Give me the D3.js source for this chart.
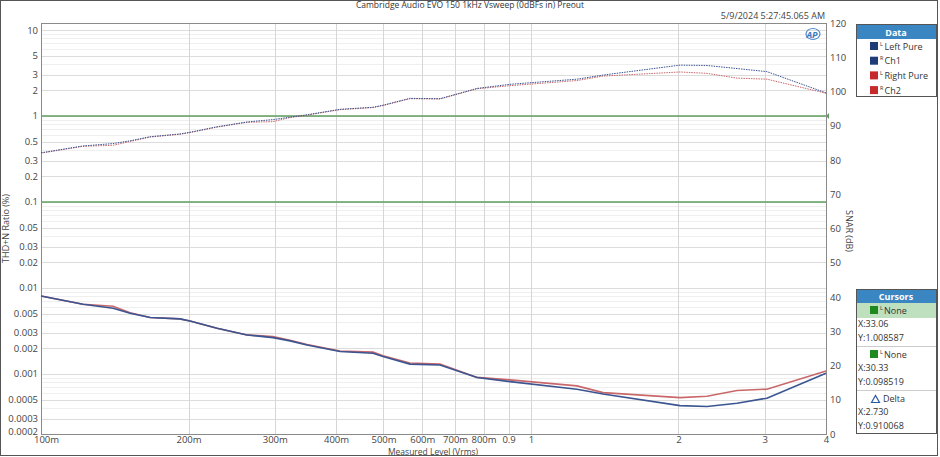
<!DOCTYPE html>
<html lang="en">
<head>
<meta charset="utf-8">
<title>EVO 150 Vsweep</title>
<script src="https://d3js.org/d3.v7.min.js"></script>
<style>
  body { margin: 0; background: #fff; }
  svg text { font-family: "Open Sans", "DejaVu Sans", sans-serif; }
  .axis text { font-size: 9.5px; fill: #444; }
  .axis path, .axis line { display: none; }
</style>
</head>
<body>
<script>
// measured level (Vrms)
var levels = [0.1, 0.1218, 0.1403, 0.152, 0.167, 0.192, 0.2014, 0.2287, 0.2633, 0.2975, 0.3223, 0.349, 0.4076,
              0.476, 0.4989, 0.566, 0.652, 0.776, 0.906, 1.241, 1.403, 2.014, 2.287, 2.633, 3.03, 4.0]
// THD+N ratio (%)
var thdLeft = [0.00807, 0.00646, 0.00581, 0.00508, 0.00452, 0.00436, 0.00413, 0.0034, 0.00284, 0.00264, 0.00242,
               0.00217, 0.00182, 0.00174, 0.00159, 0.0013, 0.00127, 0.000906, 0.000814, 0.000664, 0.000585,
               0.000428, 0.000417, 0.000456, 0.000522, 0.00102]
var thdRight = [0.00807, 0.00646, 0.00612, 0.00515, 0.00452, 0.00436, 0.00413, 0.0034, 0.00284, 0.00272, 0.00246,
                0.0022, 0.00185, 0.00179, 0.00163, 0.00134, 0.0013, 0.00091, 0.000852, 0.000725, 0.000606,
                0.00053, 0.00055, 0.00064, 0.000664, 0.00108]
// SNR (dB)
var snrCh1 = [82.1, 84.1, 84.8, 85.6, 86.8, 87.6, 88.1, 89.7, 91.1, 91.8, 92.5, 93.2, 94.8, 95.4, 96.0, 98.0, 97.9,
              100.9, 102.1, 103.6, 104.8, 107.7, 107.6, 106.7, 105.8, 99.6]
var snrCh2 = [82.0, 84.0, 84.3, 85.4, 86.7, 87.5, 88.0, 89.6, 91.0, 91.2, 92.4, 93.1, 94.7, 95.3, 95.9, 97.9, 97.8,
              100.8, 101.7, 103.2, 104.5, 105.7, 105.3, 103.9, 103.6, 99.5]

var xTicks = [0.1, 0.2, 0.3, 0.4, 0.5, 0.6, 0.7, 0.8, 0.9, 1, 2, 3, 4]
var xTickLabels = ["100m", "200m", "300m", "400m", "500m", "600m", "700m", "800m", "0.9", "1", "2", "3", "4"]
var yTicks = [10, 5, 3, 2, 1, 0.5, 0.3, 0.2, 0.1, 0.05, 0.03, 0.02, 0.01, 0.005, 0.003, 0.002, 0.001, 0.0005, 0.0003, 0.0002]
var dbTicks = [0, 10, 20, 30, 40, 50, 60, 70, 80, 90, 100, 110, 120]
var cursorLines = [1, 0.1]

var legendNames = [["L", "Left Pure"], ["R", "Ch1"], ["L", "Right Pure"], ["R", "Ch2"]]
var cursorRows = ["X:33.06", "Y:1.008587", "X:30.33", "Y:0.098519", "X:2.730", "Y:0.910068"]

var w = 940, h = 457
var plotL = 41, plotR = 826, plotT = 23, plotB = 434
var blue = "#3a5591", red = "#c9686b", green = "#5f9e5f"

var svg = d3.select("body").append("svg").attr("width", w).attr("height", h)

var xScale = d3.scaleLog().domain([0.1, 4]).range([plotL, plotR])
var yScale = d3.scaleLog().domain([0.0002, 12.05]).range([plotB, plotT])
var yDb = d3.scaleLinear().domain([0, 120]).range([plotB, plotT])

// outer frame
svg.append("rect").attr("x", 0.5).attr("y", 0.5).attr("width", 937).attr("height", 455)
    .attr("fill", "none").attr("stroke", "#555")

// minor horizontal grid
var minor = []
for (var e = -4; e <= 1; e++) {
    for (var m = 1; m <= 9; m++) {
        var v = m * Math.pow(10, e)
        if (v > 0.0002 && v < 12 && yTicks.indexOf(+v.toPrecision(3)) < 0) minor.push(v)
    }
}
svg.append("g").selectAll("line").data(minor).join("line")
    .attr("x1", plotL).attr("x2", plotR)
    .attr("y1", function (d) { return Math.round(yScale(d)) + 0.5 })
    .attr("y2", function (d) { return Math.round(yScale(d)) + 0.5 })
    .attr("stroke", "#efefef")

svg.append("g").selectAll("line").data(yTicks).join("line")
    .attr("x1", plotL).attr("x2", plotR)
    .attr("y1", function (d) { return Math.round(yScale(d)) + 0.5 })
    .attr("y2", function (d) { return Math.round(yScale(d)) + 0.5 })
    .attr("stroke", "#dcdcdc")

svg.append("g").selectAll("line").data(xTicks).join("line")
    .attr("y1", plotT).attr("y2", plotB)
    .attr("x1", function (d) { return Math.round(xScale(d)) + 0.5 })
    .attr("x2", function (d) { return Math.round(xScale(d)) + 0.5 })
    .attr("stroke", "#d6d6d6")

// cursor lines
svg.append("g").selectAll("line").data(cursorLines).join("line")
    .attr("x1", plotL).attr("x2", plotR)
    .attr("y1", function (d) { return yScale(d) }).attr("y2", function (d) { return yScale(d) })
    .attr("stroke", green).attr("stroke-width", 1.6)
svg.append("path")
    .attr("d", "M" + plotR + "," + yScale(1) + "l3,-3v6z").attr("fill", green)

// plot frame
svg.append("rect").attr("x", plotL + 0.5).attr("y", plotT + 0.5)
    .attr("width", plotR - plotL).attr("height", plotB - plotT)
    .attr("fill", "none").attr("stroke", "#8a8a8a")

// axes
var xAxis = d3.axisBottom(xScale).tickValues(xTicks).tickSize(0).tickPadding(2)
    .tickFormat(function (d, i) { return xTickLabels[i] })
var gx = svg.append("g").attr("class", "axis").attr("transform", "translate(0," + plotB + ")").call(xAxis)
gx.selectAll("text").attr("font-size", 9)
gx.selectAll("text").filter(function (d) { return d === 0.1 }).attr("dx", 5)

var yAxis = d3.axisLeft(yScale).tickValues(yTicks).tickSize(0).tickPadding(3)
    .tickFormat(function (d) { return String(d) })
var gy = svg.append("g").attr("class", "axis").attr("transform", "translate(" + plotL + ",0)").call(yAxis)
gy.selectAll("text").filter(function (d) { return d === 0.0002 }).attr("dy", "0.05em")

var rAxis = d3.axisRight(yDb).tickValues(dbTicks).tickSize(0).tickPadding(4)
svg.append("g").attr("class", "axis").attr("transform", "translate(" + plotR + ",0)").call(rAxis)

// axis titles
svg.append("text").attr("transform", "translate(9," + ((plotT + plotB) / 2) + ") rotate(-90)")
    .attr("text-anchor", "middle").attr("font-size", 9).attr("fill", "#444").text("THD+N Ratio (%)")
svg.append("text").attr("transform", "translate(846,231) rotate(90)")
    .attr("text-anchor", "middle").attr("font-size", 9).attr("fill", "#444").text("SNAR (dB)")
svg.append("text").attr("x", 433).attr("y", 454.5).attr("text-anchor", "middle")
    .attr("font-size", 8.5).attr("fill", "#444").text("Measured Level (Vrms)")

// title, date, logo
svg.append("text").attr("x", 470).attr("y", 8).attr("text-anchor", "middle")
    .attr("font-size", 8.5).attr("fill", "#333").text("Cambridge Audio EVO 150 1kHz Vsweep (0dBFs in) Preout")
svg.append("text").attr("x", 825).attr("y", 19).attr("text-anchor", "end")
    .attr("font-size", 9).attr("fill", "#444").text("5/9/2024 5:27:45.065 AM")
svg.append("ellipse").attr("cx", 813).attr("cy", 34).attr("rx", 7).attr("ry", 5.5)
    .attr("fill", "none").attr("stroke", "#4a8ad0").attr("stroke-width", 1.2)
svg.append("text").attr("x", 812).attr("y", 37.5).attr("text-anchor", "middle")
    .attr("font-size", 9).attr("font-style", "italic").attr("font-weight", "bold").attr("fill", "#3a78c0").text("AP")

// curves
function series(vals, yS) {
    return d3.line().x(function (d, i) { return xScale(levels[i]) }).y(function (d) { return yS(d) })(vals)
}
svg.append("path").attr("d", series(snrCh2, yDb)).attr("fill", "none").attr("stroke", red)
    .attr("stroke-width", 1).attr("stroke-dasharray", "1.5,1")
svg.append("path").attr("d", series(snrCh1, yDb)).attr("fill", "none").attr("stroke", blue)
    .attr("stroke-width", 1).attr("stroke-dasharray", "1.5,1")
svg.append("path").attr("d", series(thdRight, yScale)).attr("fill", "none").attr("stroke", red).attr("stroke-width", 1.6)
svg.append("path").attr("d", series(thdLeft, yScale)).attr("fill", "none").attr("stroke", blue).attr("stroke-width", 1.6)

// data legend
var lg = svg.append("g")
lg.append("rect").attr("x", 856.5).attr("y", 24.5).attr("width", 80).attr("height", 72)
    .attr("fill", "#fff").attr("stroke", "#555")
lg.append("rect").attr("x", 857).attr("y", 25).attr("width", 79).attr("height", 14).attr("fill", "#3a86c2")
lg.append("text").attr("x", 896).attr("y", 35.5).attr("text-anchor", "middle").attr("font-size", 9)
    .attr("font-weight", "bold").attr("fill", "#fff").text("Data")
var legendColors = ["#1f3c78", "#1f3c78", "#c62a2a", "#c62a2a"]
legendNames.forEach(function (d, i) {
    var yy = 46 + i * 14.7
    lg.append("rect").attr("x", 870).attr("y", yy - 4).attr("width", 8).attr("height", 8).attr("fill", legendColors[i])
    lg.append("text").attr("x", 880).attr("y", yy - 0.5).attr("font-size", 5.5).attr("fill", "#333").text(d[0])
    lg.append("text").attr("x", 884.5).attr("y", yy + 3.5).attr("font-size", 9).attr("fill", "#333").text(d[1])
})

// cursors panel
var cg = svg.append("g")
cg.append("rect").attr("x", 856.5).attr("y", 289.5).attr("width", 80).attr("height", 144)
    .attr("fill", "#fff").attr("stroke", "#555")
cg.append("rect").attr("x", 857).attr("y", 290).attr("width", 79).attr("height", 13).attr("fill", "#3a86c2")
cg.append("text").attr("x", 896).attr("y", 299.5).attr("text-anchor", "middle").attr("font-size", 9)
    .attr("font-weight", "bold").attr("fill", "#fff").text("Cursors")
cg.append("rect").attr("x", 857).attr("y", 303).attr("width", 79).attr("height", 15).attr("fill", "#bfe0bf")
;[310, 354].forEach(function (yy) {
    cg.append("rect").attr("x", 870).attr("y", yy - 4).attr("width", 8).attr("height", 8).attr("fill", "#1e8a1e")
    cg.append("text").attr("x", 880).attr("y", yy - 0.5).attr("font-size", 5.5).attr("fill", "#333").text("L")
    cg.append("text").attr("x", 884).attr("y", yy + 3.5).attr("font-size", 9).attr("fill", "#333").text("None")
})
;[346.5, 390.5].forEach(function (yy) {
    cg.append("line").attr("x1", 857).attr("x2", 936).attr("y1", yy).attr("y2", yy).attr("stroke", "#ccc")
})
cg.append("path").attr("d", "M871.5,402.5l4,-7l4,7z").attr("fill", "none").attr("stroke", "#2a5aa0").attr("stroke-width", 1.2)
cg.append("text").attr("x", 883).attr("y", 401.5).attr("font-size", 9).attr("fill", "#333").text("Delta")
var rowY = [326.5, 341, 370.5, 385, 415, 429]
cursorRows.forEach(function (t, i) {
    cg.append("text").attr("x", 858).attr("y", rowY[i]).attr("font-size", 9).attr("fill", "#333").text(t)
})
</script>
</body>
</html>
